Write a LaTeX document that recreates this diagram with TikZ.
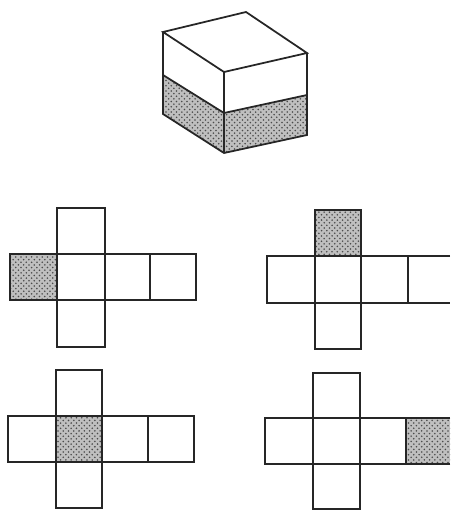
\documentclass[tikz,border=0pt]{standalone}
\usepackage{tikz}
\usetikzlibrary{patterns}
\tikzset{
  edge/.style={line width=1pt,black!85},
  shaded/.style={preaction={fill=black!25},pattern color=black!70,pattern=crosshatch dots}
}
\begin{document}
\begin{tikzpicture}[x=0.02cm,y=-0.02cm]
  \useasboundingbox (0,0) rectangle (450,510);

  % Cube corners
  \coordinate (TL) at (163,32);
  \coordinate (TB) at (246,12);
  \coordinate (TR) at (307,53);
  \coordinate (TF) at (224,72);
  \coordinate (ML) at (163,75);
  \coordinate (MF) at (224,113);
  \coordinate (MR) at (307,95);
  \coordinate (BL) at (163,114);
  \coordinate (BF) at (224,153);
  \coordinate (BR) at (307,135);

  % Shaded lower half of the cube
  \fill[shaded] (ML) -- (MF) -- (MR) -- (BR) -- (BF) -- (BL) -- cycle;

  % Draw cube
  \draw[edge] (TL) -- (TB) -- (TR) -- (TF) -- cycle;
  \draw[edge] (TL) -- (BL) -- (BF) -- (BR) -- (TR);
  \draw[edge] (TF) -- (BF);
  \draw[edge] (ML) -- (MF) -- (MR);

  % Shaded faces of the nets
  \fill[shaded] (10,254) rectangle (57,300);
  \fill[shaded] (315,210) rectangle (361,256);
  \fill[shaded] (56,416) rectangle (102,462);
  \fill[shaded] (406,418) rectangle (450,464);

  % Net upper left
  \draw[edge] (57,208) rectangle (105,347);
  \draw[edge] (10,254) rectangle (196,300);
  \draw[edge] (150,254) -- (150,300);
  \draw[edge] (57,254) -- (57,300);

  % Net upper right
  \draw[edge] (315,210) rectangle (361,349);
  \draw[edge] (450,256) -- (267,256) -- (267,303) -- (450,303);
  \draw[edge] (408,256) -- (408,303);

  % Net lower left
  \draw[edge] (56,370) rectangle (102,508);
  \draw[edge] (8,416) rectangle (194,462);
  \draw[edge] (148,416) -- (148,462);

  % Net lower right
  \draw[edge] (313,373) rectangle (360,509);
  \draw[edge] (450,418) -- (265,418) -- (265,464) -- (450,464);
  \draw[edge] (406,418) -- (406,464);
\end{tikzpicture}
\end{document}
